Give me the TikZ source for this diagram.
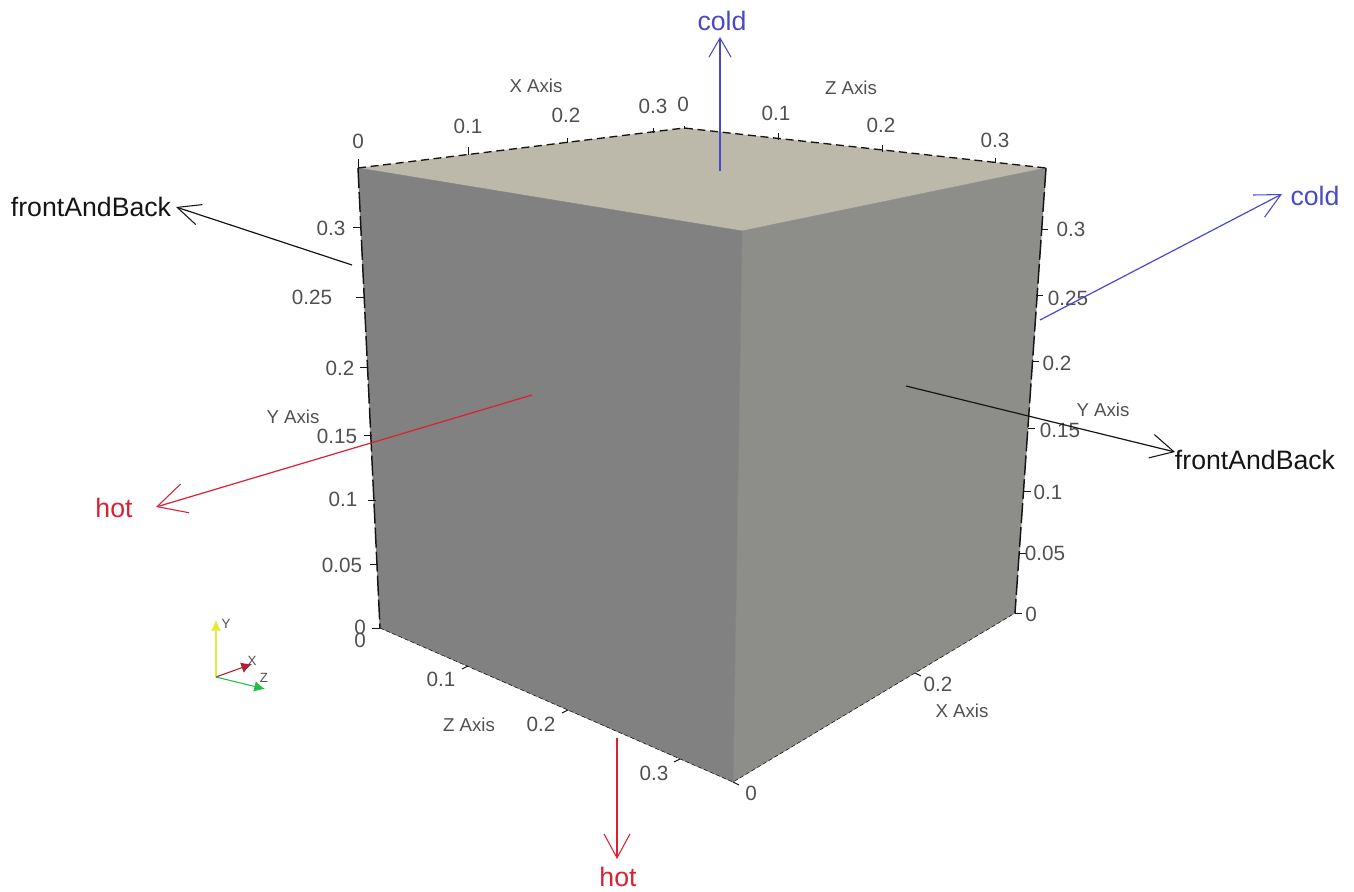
\documentclass[tikz,border=0pt]{standalone}
\usepackage{fontspec}
\setmainfont{Liberation Sans}
\usetikzlibrary{arrows.meta}
\definecolor{ink}{HTML}{151515}
\definecolor{axc}{HTML}{505050}
\definecolor{coldc}{HTML}{4A4AC8}
\definecolor{hotc}{HTML}{DC2034}
\definecolor{facel}{HTML}{818181}
\definecolor{facer}{HTML}{8D8D89}
\definecolor{facet}{HTML}{BCB9AB}
\definecolor{triy}{HTML}{E8E840}
\definecolor{trix}{HTML}{B02030}
\definecolor{triz}{HTML}{20C040}
\tikzset{
  edge/.style={ink,line width=1pt,dash pattern=on 6pt off 3.5pt},
  edgev/.style={ink,line width=1.1pt,dash pattern=on 15pt off 3pt},
  tick/.style={ink,line width=0.7pt},
  ticklbl/.style={font=\fontsize{15.5}{18}\selectfont,text=axc,inner sep=0pt},
  axlbl/.style={font=\fontsize{14}{16}\selectfont,text=axc,inner sep=0pt},
  patchlbl/.style={font=\fontsize{20}{24}\selectfont,inner sep=0pt},
  patch/.style 2 args={line width=0.9pt,-{Straight Barb[length=#1*0.75pt,width=#2*0.75pt,line width=0.8pt]}},
  triad/.style={thick,-{Latex[length=8pt,width=8pt]}},
  trilbl/.style={font=\fontsize{10}{12}\selectfont,text=axc,inner sep=0pt},
}
\begin{document}
\begin{tikzpicture}[x=0.75pt,y=-0.75pt]
  \useasboundingbox (0,0) rectangle (1354,892);
  % ===================== cube =====================
  \coordinate (tl) at (358,168);
  \coordinate (tb) at (684,128);
  \coordinate (tr) at (1046,168);
  \coordinate (tf) at (742,231);
  \coordinate (bl) at (380,628);
  \coordinate (bf) at (733,782);
  \coordinate (br) at (1015,613);
  \fill[facet] (tl) -- (tb) -- (tr) -- (tf) -- cycle;
  \filldraw[facer,line width=0.4pt] (tf) -- (tr) -- (br) -- (bf) -- cycle;
  \filldraw[facel,line width=0.4pt] (tl) -- (tf) -- (bf) -- (bl) -- cycle;
  \draw[edge] (tl) -- (tb) -- (tr);
  \draw[edgev] (tl) -- (bl);
  \draw[edgev] (tr) -- (br);
  \draw[ink,densely dashed] (bl) -- (bf) -- (br);
  % ===================== ticks =====================
  \foreach \x/\y/\l in {358/168/9,468/155/8,567/143/5,653/133/5,684/129/3,778/140/7,882/152/7,995/163/5}
    \draw[tick] (\x,\y) -- ++(0,-\l);
  \foreach \x/\y in {361/227,364/297,368/367,372/435,376/500,378/564,380/628}
    \draw[tick] (\x,\y) -- ++(-8,0);
  \foreach \x/\y in {1041/229,1036/295,1032/361,1028/428,1024/491,1020/553,1015/613}
    \draw[tick] (\x,\y) -- ++(7,0);
  \foreach \x/\y in {468/666,568/710,680/759}
    \draw[tick] (\x,\y) -- ++(-6,3);
  \foreach \x/\y in {915/673,733/782}
    \draw[tick] (\x,\y) -- ++(6,3);
  % ===================== tick labels =====================
  \foreach \x/\y/\t in {358/141/0,468/126/0.1,566/115/0.2,653/106/0.3,683/104/0,
      776/113/0.1,881/125/0.2,995/140/0.3,
      331/228/0.3,312/297/0.25,340/368/0.2,337/436/0.15,343/499/0.1,342/565/0.05,360/627/0,360/640/0,
      1071/229/0.3,1068/298/0.25,1057/363/0.2,1060/430/0.15,1048/492/0.1,1045/553/0.05,1031/614/0,
      441/679/0.1,541/724/0.2,654/773/0.3,751/793/0,938/684/0.2}
    \node[ticklbl] at (\x,\y) {\t};
  \node[axlbl] (xtop) at (536,86) {X Axis};
  \node[axlbl] (ztop) at (851,88) {Z Axis};
  \node[axlbl] (yleft) at (293,417) {Y Axis};
  \node[axlbl] (yright) at (1103,410) {Y Axis};
  \node[axlbl] (zbot) at (469,725) {Z Axis};
  \node[axlbl] (xbot) at (962,711) {X Axis};
  % ===================== patch arrows =====================
  \node[patchlbl,coldc] (coldt) at (722,21) {cold};
  \node[patchlbl,coldc] (coldr) at (1315,196) {cold};
  \node[patchlbl,ink] (fbl) at (91,207) {frontAndBack};
  \node[patchlbl,ink] (fbr) at (1255,460) {frontAndBack};
  \node[patchlbl,hotc] (hotl) at (114,508) {hot};
  \node[patchlbl,hotc] (hotb) at (618,877) {hot};
  \coordinate (coldts) at (720,171);
  \coordinate (coldte) at (720,37);
  \coordinate (coldrs) at (1040,320);
  \coordinate (coldre) at (1282,194);
  \coordinate (fbls) at (352,265);
  \coordinate (fble) at (176,207);
  \coordinate (fbrs) at (906,386);
  \coordinate (fbre) at (1175,452);
  \coordinate (hotls) at (532,395);
  \coordinate (hotle) at (156,507);
  \coordinate (hotbs) at (617,738);
  \coordinate (hotbe) at (617,859);
  \draw[patch={19}{22},coldc] (coldts) -- (coldte);
  \draw[patch={25}{25},coldc] (coldrs) -- (coldre);
  \draw[patch={23}{21},ink] (fbls) -- (fble);
  \draw[patch={23}{24},ink] (fbrs) -- (fbre);
  \draw[patch={29}{30},hotc] (hotls) -- (hotle);
  \draw[patch={24}{26},hotc] (hotbs) -- (hotbe);
  % ===================== orientation triad =====================
  \coordinate (org) at (216,677);
  \draw[triad,triy] (org) -- (216,620);
  \draw[triad,trix] (org) -- (252,664);
  \draw[triad,triz] (org) -- (265,689);
  \node[trilbl] (triY) at (226,624) {Y};
  \node[trilbl] (triX) at (252,661) {X};
  \node[trilbl] (triZ) at (264,678) {Z};
\end{tikzpicture}
\end{document}
